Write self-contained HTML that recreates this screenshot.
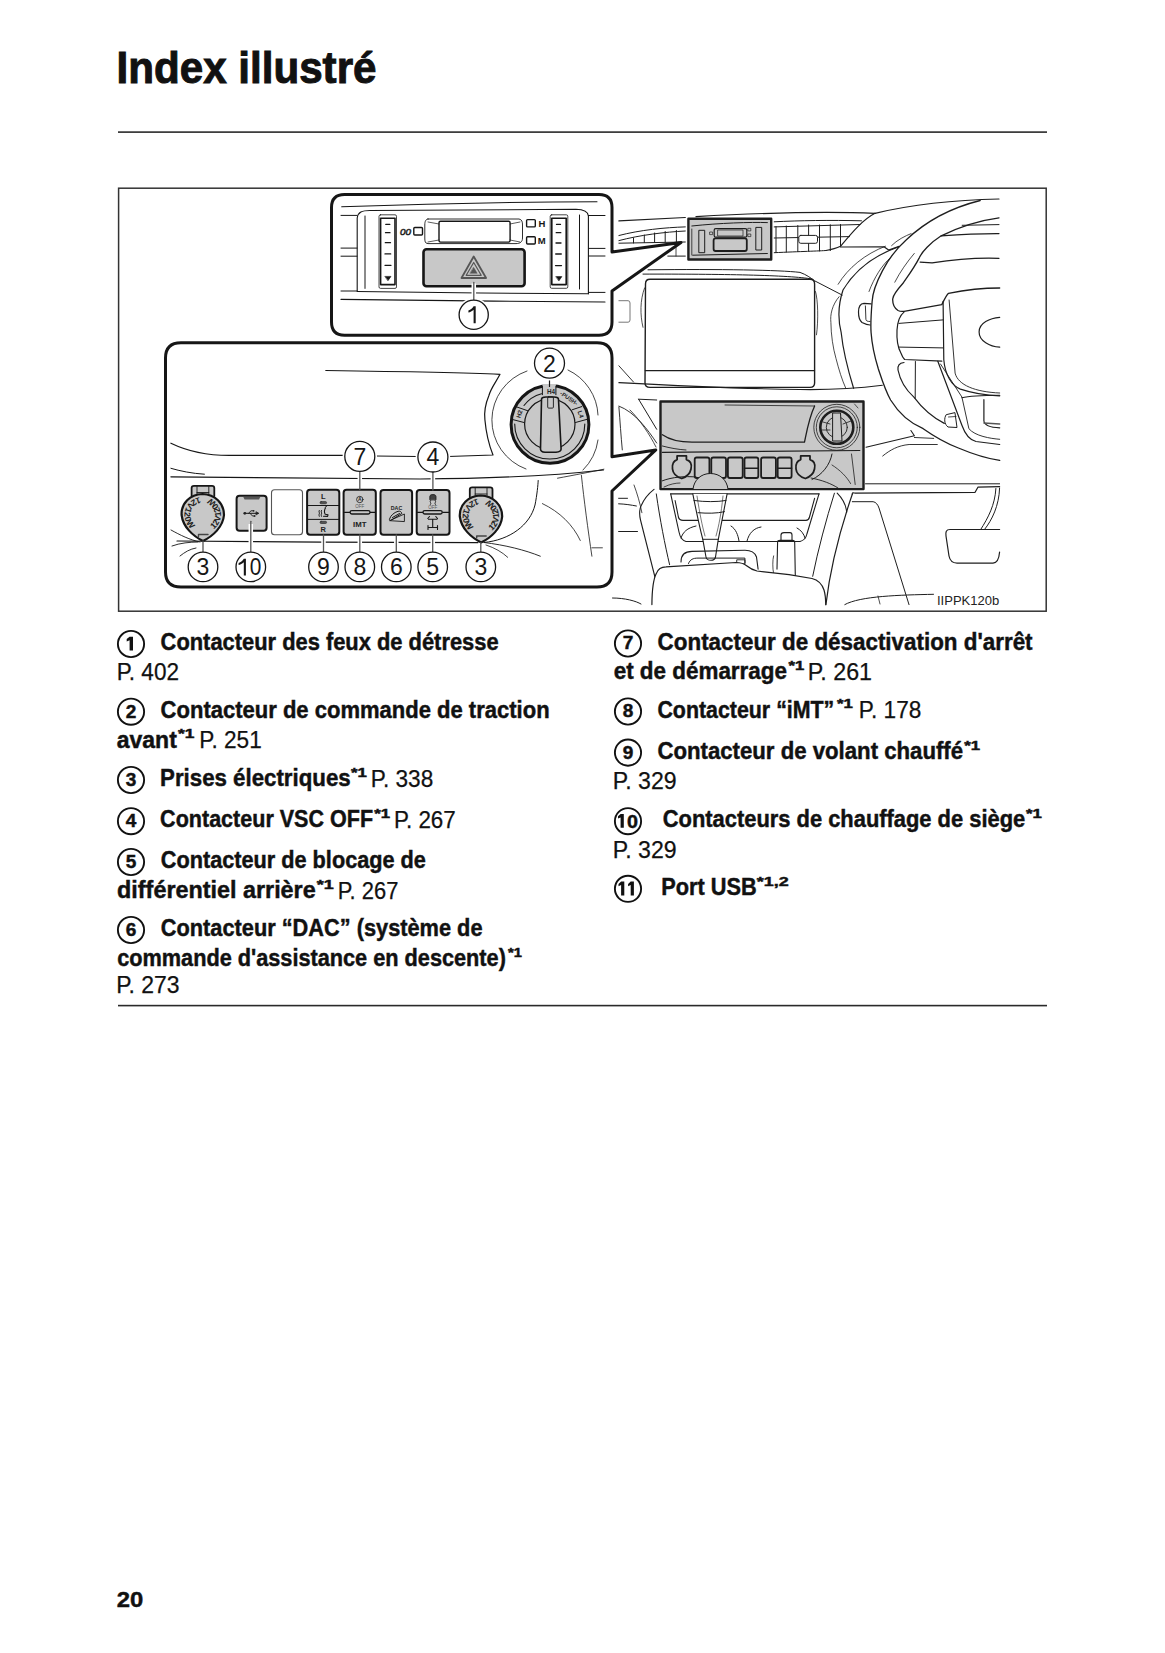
<!DOCTYPE html>
<html><head><meta charset="utf-8">
<style>
html,body{margin:0;padding:0;background:#fff;}
body{width:1165px;height:1653px;position:relative;overflow:hidden;}
svg{position:absolute;left:0;top:0;}
.b{font-family:"Liberation Sans",sans-serif;font-weight:bold;fill:#111;stroke:#111;stroke-width:0.45px;}
.r{font-family:"Liberation Sans",sans-serif;font-weight:normal;fill:#111;stroke:#111;stroke-width:0.25px;}
</style></head><body>
<svg width="1165" height="1653" viewBox="0 0 1165 1653">
<!-- header -->
<text class="b" x="116.5" y="82.8" font-size="45" style="stroke-width:1px" textLength="260" lengthAdjust="spacingAndGlyphs">Index illustré</text>
<rect x="118" y="131.3" width="929" height="1.6" fill="#2a2a2a"/>

<!-- ILLUSTRATION -->
<g id="illus">
<rect x="118.6" y="188.2" width="927.6" height="423" fill="none" stroke="#333" stroke-width="1.5"/>
<!-- DASHBOARD -->
<g fill="none" stroke="#1e1e1e" stroke-width="1.2" stroke-linecap="round" stroke-linejoin="round">
<!-- top dash line -->
<path d="M618.9,220.9 L685.3,217.5"/>
<path d="M696,216.6 C760,213 830,211.5 875,213.3"/>
<path d="M875,213.3 C910,205 950,200 999,199"/>
<!-- cowl -->
<path d="M875,213.3 C862,220 850,235 840.5,246.3 C835,249 832,249.5 826,250.5"/>
<path d="M840.5,247 L884,246.8 L888.6,250.1 L899.1,246.3"/>
<!-- left vent -->
<path d="M618.9,235.5 C640,230 665,227.5 685.3,226.9" stroke-width="1"/>
<path d="M618.9,240.6 C640,235 665,232 685.3,231" stroke-width="1"/>
<path d="M618.9,243.2 L685.3,242" stroke-width="1"/>
<path d="M633.5,238 V243 M644.3,235 V242.5 M654.6,233 V242.3 M665.2,231.5 V242.2 M676.4,230.5 V242" stroke-width="1"/>
<path d="M667.8,256.1 L685.3,256.1" stroke-width="1"/>
<path d="M676,245 V256" stroke-width="0.8"/>
<!-- right vent -->
<path d="M774.2,221.8 C800,220.5 830,220 861.5,220.8" stroke-width="1"/>
<path d="M774.2,226.9 L860,224.5" stroke-width="1"/>
<path d="M774.2,252.7 C800,251.5 820,251 826,250.5" stroke-width="1"/>
<path d="M776,226.5 V252.5 M786.3,226 V252 M797.8,225.5 V251.5 M808.6,225 V251 M819.5,225 V251 M830.3,224.8 V250.6 M840.5,224.5 V246" stroke-width="1"/>
<path d="M774.2,238 L849.5,236.6" stroke-width="1"/>
<rect x="798.8" y="235.4" width="18.7" height="7.9" rx="2" fill="#fff" stroke-width="1"/>
<!-- above screen -->
<path d="M648,269.8 C720,269 780,270 800,272.4 C806,274.5 811,278 814.4,280.7 L842.2,295.1" stroke-width="1"/>
<path d="M643,274.1 C720,274 790,275 812,279" stroke-width="1"/>
<!-- screen -->
<path d="M645.5,284 Q645.5,279.3 650,279.3 L810,279.3 Q814.6,279.3 814.6,284 L814.6,383 Q814.6,387.4 810,387.4 L650,387.4 Q645,387.4 645,383 Z" stroke-width="1.4"/>
<path d="M645.3,370.6 L814.6,370.6" stroke-width="1.1"/>
<path d="M644.6,287.9 C640,300 640,315 643,327.3" stroke-width="0.8"/>
<path d="M815.5,291.5 C818,300 818.5,320 816.5,334.8" stroke-width="0.8"/>
<path d="M618.9,300.7 L628,300.7 Q630,300.7 630,303 L630,320 Q630,322.2 628,322.2 L618.9,322.2" stroke="#777" stroke-width="1"/>
<!-- under screen -->
<path d="M618.9,382.6 C680,386 760,389 800,389.5 C830,390 860,388 882.4,385.2" stroke-width="1.1"/>
<path d="M618.9,365.8 L633.5,382" stroke-width="0.9"/>
<path d="M638.6,399.2 L656.7,400 M638.6,399.2 L656.7,429.3" stroke-width="1"/>
<path d="M618.9,406.1 C635,412 648,430 656.7,443" stroke-width="0.9"/>
<path d="M618.9,407 C620,420 621,437 622.3,449.9" stroke-width="0.9"/>
<path d="M630,410 C640,420 650,435 656,447" stroke-width="0.8"/>
<!-- column arcs -->
<path d="M838.1,284.3 C848,268 865,254 885.5,246.2" stroke-width="0.8"/>
<path d="M898.9,246.7 C875,255 855,270 843,290 C838,305 838,320 841.2,332.7 C843,350 848,370 853.6,388.3" stroke-width="1.2"/>
<path d="M839.1,296.7 C832,305 830,315 830.9,322.4 C831,335 833,348 836,358.5 C839,370 842,380 845.8,388.3" stroke-width="0.8"/>
<path d="M869,291.5 C874,278 882,265 890.6,257.5" stroke-width="0.8"/>
<path d="M866,447.2 L914.4,435.8 L910.9,430.5" stroke-width="1.1"/>
<path d="M914.4,437.5 L933.7,438.4" stroke-width="0.9"/>
<path d="M882.7,456 C890,450 898,445.5 909.1,444.5 L937.3,444.5" stroke-width="0.9"/>
<!-- steering wheel -->
<path d="M980.2,200.5 C950,208 925,222 906.1,240 C895,250 888,260 882.4,270.9 C876,283 872.5,292 872.1,301.8 C871,315 870.5,325 871.1,332.7 C872,345 875,358 878.3,368.8 C882,380 885,390 890.6,400 C898,412 910,423 923.2,428.7 C935,437 948,444 958.4,448 C975,455 990,459 999.7,460.4" stroke-width="1.3"/>
<path d="M999,217.8 C975,221 955,229 941.2,235.8 C930,243 922,252 919.4,257.6 C914,268 908,276 903,283.3 C897,290 893,295 892.7,299 C892.5,304 894,308 898,310.5 C900,311.5 902,311.6 904,311.3 L941.8,304.6 C945,298 947,294 948.5,293.3 C965,290 985,288 999.7,288" stroke-width="1.3"/>
<path d="M962.2,225.3 L999,224.6" stroke-width="1"/>
<path d="M941.2,235.8 C960,234.5 980,233.5 999,233.6" stroke-width="1.2"/>
<path d="M920.1,262.1 L932.1,262.9 C950,260 975,257.5 999,258.3" stroke-width="1.2"/>
<path d="M891.6,245.6 C897,240 905,236 911.1,233.6" stroke-width="0.8"/>
<path d="M894.8,282.2 C900,272 907,262 914.3,253.4" stroke-width="0.8"/>
<!-- stalk -->
<path d="M871.1,303.9 L864,303.3 C860,303.5 858.5,307 858.5,312 C858.5,317 859,320 862,322.5 C865,324 868,325 870,325" stroke-width="1.2"/>
<path d="M865.4,305.9 L865.9,319.3 C866,321 867.5,321.5 870,321.5" stroke-width="0.9"/>
<!-- spoke -->
<path d="M904,312.1 C899,316 897.5,322 897,330 C896.5,340 898,348 901,353.3 C902,356 903,358 904.6,359.5 L941.8,361.2" stroke-width="1.2"/>
<path d="M898.9,323.4 L943.1,319.9 M898.9,347.1 L943.1,347.9" stroke-width="1"/>
<path d="M943.1,301.3 L943.8,359.8 C945,375 952,386 960.4,389.1 C975,394 990,395.5 999.7,395.8" stroke-width="1.2"/>
<path d="M949.1,300 L955.1,373.1 C958,385 975,392 999.7,393" stroke-width="0.9"/>
<path d="M999.7,317.3 C990,318 979,323 979.1,331.9 C979,341 990,346.5 999.7,347.2" stroke-width="1.2"/>
<path d="M904,362.5 C899,363 897.5,366 898,370 C900,380 906,390 913.9,397.1 C922,408 932,417 944.3,423.4" stroke-width="1.2"/>
<path d="M915.4,361.5 L915.2,398.4" stroke-width="1"/>
<path d="M937.8,361.2 L961.9,425.2 C965,434 970,440 976,441.5 L999.7,444.5" stroke-width="1.2"/>
<path d="M940.5,364 L961.9,397 L968.9,428.7 C975,436 990,438.5 999.7,439.3" stroke-width="0.9"/>
<path d="M961.8,397.7 C970,396 985,395.5 999.7,395.3" stroke-width="1.1"/>
<path d="M983.9,399.7 L983.9,421 C984.5,425 990,427.5 999.7,427.8" stroke-width="1.2"/>
<path d="M983.9,423 L999.7,424" stroke="#555" stroke-width="1.4"/>
<path d="M946,415 C944,418 944,424 948,427 L957,427.5 L955,413 Z" stroke-width="1"/>
<path d="M948.5,417 L956,416.5" stroke-width="0.8"/>
<!-- lower right -->
<path d="M865.5,483.8 L999.6,483.8" stroke-width="1"/>
<path d="M852.3,494.2 C852,492 854,493.2 856,493.2 L975.1,492.3 L977.9,487.2 L999.6,486.6" stroke-width="1.2"/>
<path d="M999.6,529.5 L950,529.5 C946,529.5 945.5,532 946,536 L949,556 C950,561 952,563.1 957,563.1 L993,563.1 C997,563 999,559 999.6,552" stroke-width="1.2"/>
<path d="M995.9,488.5 C995,505 988,518 980.7,529.5 M999.6,488 C999,506 992,520 984.5,529.5" stroke-width="1"/>
<path d="M825.9,604.6 C830,570 840,530 852.3,494.2" stroke-width="1.2"/>
<path d="M837.2,493.2 C842,498 846,505 846.7,512.1" stroke-width="1.1"/>
<path d="M812.7,576.3 C818,550 826,520 834.4,493.2" stroke-width="1"/>
<path d="M852.3,501.7 L873.1,501.7 C876,502 878,505 879,508 L909,604.6" stroke-width="1"/>
<path d="M844.8,604.6 C860,596 900,595 933.5,594.3" stroke-width="1"/>
<path d="M880,604 L878,596" stroke-width="0.8"/>
<!-- center console -->
<path d="M618.6,498.3 L627.5,498.3 M618.6,503.8 C625,504 631,505 636.4,506 M618.6,531.5 L637.5,531.5" stroke-width="1"/>
<path d="M634,485 C637,493 640,503 641.9,512.7" stroke-width="0.8"/>
<path d="M612.5,598 C625,598 636,601 641,604" stroke-width="1"/>
<path d="M654,489.4 C648,494 644,499 641,506 C639,511 639.5,516 640.5,520 L655.2,578" stroke-width="1.1"/>
<path d="M656.3,493.9 C660,520 665,545 669.6,564.7" stroke-width="1"/>
<path d="M670.7,493.9 L819,493.9" stroke-width="1.1"/>
<path d="M670.7,493.9 L679,532 C680,537 682,540.5 686,541.5 L800,541.5 C804,540.5 806,538 806.9,534 L819,493.9" stroke-width="1.1"/>
<path d="M675.1,500.5 L678.4,517 C679,519.5 680,520.4 683,520.4 L806,520.4 C808,520.4 809,519 809.5,517 L814.6,498.3" stroke-width="1.1"/>
<path d="M681,538 C683,532 687,528 696,526 M731,526 C736,529 738,535 739,541 M747,541 C749,533 754,528 761,527 M797,528 C801,530 804,534 805,538" stroke-width="1"/>
<path d="M692.8,493.9 C696,510 699,525 702.8,539.3 L706,557 C706.5,559.5 708,560.3 711,560.3 C714,560.3 715,559 715.5,557 L718.3,539.3 C721,525 724,510 727.1,493.9" fill="#fff" stroke-width="1.1"/>
<path d="M694,500.5 C705,502 717,502 726,500.5 M698,512.7 C708,513.5 716,513.5 724.5,511.7 M702.8,539.3 L718.3,539.3" stroke-width="1"/>
<path d="M697,496 C700,515 702,525 705,536 M723,496 C721,515 719,525 716,536" stroke-width="0.6"/>
<path d="M681,562 C681,555 685,551.4 692,551.4 L745,550.3 C752,550.3 755,553 756.5,557 L758.1,569.1" stroke-width="1.1"/>
<path d="M688.5,563.5 C690,559.5 693,558.1 698,558.1 L744.9,558.1 L745,563" stroke-width="1"/>
<rect x="737.1" y="559.8" width="7.8" height="4" stroke-width="0.9"/>
<path d="M777,569.1 L777.6,542 C777.6,540.8 778.5,540.4 780,540.4 L792.5,540.4 C794,540.4 794.7,541 794.7,542.5 L795.3,575.8" stroke-width="1.1"/>
<path d="M781,540.4 L781,535 C781,533 782,532.6 784,532.6 L790,532.6 C791.5,532.6 792,533.5 792,535 L792,540.4" stroke-width="1.1"/>
<path d="M773.6,555.9 C772.5,560 772.5,568 773.6,573.6" stroke-width="0.8"/>
<path d="M651.9,604.6 C652,592 653,580 656.3,573.6 C658,569 661,566.9 666,566.9 L736,562.5 C741,562.5 744,563.5 747,566 C750,568.5 753,570 757,571 L789.1,574.7 L812,578.5 C818,580 822,584 824,590 C825.5,595 825.7,600 825.7,604.6" fill="#fff" stroke-width="1.2"/>
</g>
<!-- HIGHLIGHT BOX 1 -->
<g stroke="#1e1e1e" stroke-linecap="round" stroke-linejoin="round">
<rect x="688.4" y="218.8" width="82.8" height="40.7" fill="#c8c8c8" stroke-width="2.4"/>
<path d="M691.8,226 C720,223 750,222 767.4,222.6" fill="none" stroke-width="1"/>
<path d="M692.7,255.2 L767.4,253.5" fill="none" stroke-width="1"/>
<path d="M691.8,229 L691.8,255" fill="none" stroke-width="0.8"/>
<rect x="699.2" y="230.3" width="5.5" height="22.4" fill="#c8c8c8" stroke-width="1"/>
<rect x="756.2" y="227.4" width="5.5" height="22.6" fill="#c8c8c8" stroke-width="1"/>
<rect x="714.2" y="228.6" width="32.6" height="8.6" rx="1.5" fill="#c8c8c8" stroke-width="1.2"/>
<rect x="718" y="230" width="25" height="6" fill="none" stroke-width="0.7"/>
<rect x="713.6" y="238.4" width="33.2" height="12.6" rx="2" fill="#c8c8c8" stroke-width="1.8"/>
<rect x="710" y="232" width="2.6" height="2.6" fill="none" stroke-width="0.7"/>
<rect x="748.2" y="228.3" width="2.6" height="2.6" fill="none" stroke-width="0.7"/>
<rect x="748.2" y="234" width="2.6" height="2.6" fill="none" stroke-width="0.7"/>
</g>
<!-- HIGHLIGHT BOX 2 -->
<g stroke="#1e1e1e" stroke-linecap="round" stroke-linejoin="round" fill="none">
<rect x="660.5" y="401.5" width="203" height="87.6" fill="#c8c8c8" stroke-width="2.4"/>
<path d="M725,405 L814.6,406" stroke-width="0.8"/>
<path d="M662.4,434.7 C670,440 680,442.1 692,442.1 L804.5,442.1 C807,430 809,418 814.6,406" stroke-width="1.3"/>
<path d="M662.4,446 C670,448 678,449.5 686,450" stroke-width="0.9"/>
<path d="M662.4,452.4 L859.8,450.5" stroke-width="1.2"/>
<circle cx="836.8" cy="427.3" r="23" stroke-width="0.8"/>
<circle cx="836.8" cy="427.3" r="20.5" stroke-width="0.8"/>
<circle cx="836.8" cy="427.3" r="16.5" stroke-width="2.6"/>
<circle cx="836.8" cy="427.3" r="10.5" stroke-width="0.9"/>
<path d="M833,413 L840.5,413 L842,441 L833,441 Z" fill="#c8c8c8" stroke-width="1"/>
<path d="M823,422 L830,424 M843,424 L851,421 M822,430 L830,430" stroke-width="0.8"/>
<path d="M677.1,459.6 L677.1,455.9 L686.4,455.9 L686.4,459.6 C691,461 692,465 691,469 C690,474 686,477 681.8,478.5 C677,477 673,474 672.5,469 C672,465 673,461 677.1,459.6 Z" stroke-width="1.8"/>
<path d="M800.7,459.6 L800.7,455.9 L810,455.9 L810,459.6 C814.5,461 815.5,465 814.5,469 C813.5,474 809.5,477 805.4,478.5 C800.5,477 796.5,474 796,469 C795.5,465 796.5,461 800.7,459.6 Z" stroke-width="1.8"/>
<rect x="694.7" y="457.5" width="14.7" height="20.5" rx="2" stroke-width="1.8"/>
<rect x="711.3" y="457.5" width="14.7" height="20.5" rx="2" stroke-width="1.8"/>
<rect x="727.9" y="457.5" width="14.8" height="20.5" rx="2" stroke-width="1.8"/>
<rect x="744.5" y="457.5" width="13.8" height="20.5" rx="2" stroke-width="1.8"/>
<rect x="761.1" y="457.5" width="14.8" height="20.5" rx="2" stroke-width="1.8"/>
<rect x="777.7" y="457.5" width="13.9" height="20.5" rx="2" stroke-width="1.8"/>
<path d="M744.5,468.2 L758.3,468.2 M777.7,468.2 L791.6,468.2" stroke-width="1.5"/>
<path d="M693,489 C694,480 701,473.5 710.4,473.5 C720,473.5 727,480 728,489" fill="#c8c8c8" stroke-width="1"/>
<path d="M662.4,480.8 C672,477 685,476 696,477" stroke-width="1"/>
<path d="M664,487 C670,484 676,483 680,483" stroke-width="0.8"/>
<path d="M811,478 C822,480 832,484 838,488" stroke-width="0.9"/>
<path d="M812,479.5 C822,475 830,465 832,454" stroke-width="1"/>
<path d="M832,465 C840,470 847,477 850.6,483.6" stroke-width="0.8"/>
<path d="M851.5,454 L855.2,484.5" stroke-width="0.8"/>
<path d="M854.5,404 L858,408" stroke-width="0.7"/>
</g>
<!-- INSET A -->
<g stroke="#161616" stroke-linecap="round" stroke-linejoin="round" fill="none">
<path d="M331.5,207.5 Q331.5,194.5 344.5,194.5 L599,194.5 Q612,194.5 612,207.5 L612,252 L681,242.4 L612,291 L612,322 Q612,335.2 599,335.2 L344.5,335.2 Q331.5,335.2 331.5,322 Z" fill="#fff" stroke-width="3"/>
<path d="M341.7,206.7 C420,204 520,202 597,201.7" stroke-width="1.1"/>
<path d="M357.2,291 L357.2,218 C358,212 362,210.5 370,210.5 L576,209.3 C584,209.5 588,212 588.4,216 L588.4,293.8" stroke-width="1.1"/>
<path d="M357.2,291.5 C420,292.5 520,293.5 588.4,293.8" stroke-width="1.1"/>
<path d="M341,215.4 L357,215.4 M341,248.1 L357,248.1 M341,256.2 L357,256.2 M341,291 L357,291" stroke-width="1"/>
<path d="M341,299.4 C420,300.5 520,301.5 605,302" stroke-width="1.1"/>
<path d="M588.4,215.5 L605,215.5 M588.4,248.4 L605,248.4 M588.4,256 L605,256 M588.4,292.4 L605,292.4" stroke-width="1"/>
<path d="M365,216 L365,288.4 M579.5,215 L579.5,289" stroke-width="1"/>
<rect x="379" y="214.8" width="17.5" height="73.6" rx="1.5" stroke-width="0.8"/>
<rect x="380.6" y="218.3" width="14.4" height="66.3" stroke-width="1.6"/>
<path d="M385.8,224.4 H389.8 M385.5,232.7 H390 M385.3,242.7 H390.5 M385,253.9 H390.7 M385,265.3 H391" stroke-width="1.3"/>
<path d="M385,279.5" stroke-width="1"/>
<path d="M385.2,276.4 L391,276.4 L388.1,280.5 Z" fill="#161616" stroke-width="0.6"/>
<rect x="550.2" y="214.8" width="17.6" height="73.5" rx="1.5" stroke-width="0.8"/>
<rect x="551.8" y="218.3" width="14.4" height="66.3" stroke-width="1.6"/>
<path d="M556.5,224.4 H560.5 M556.2,232.7 H560.8 M556,243 H561 M555.7,254 H561.3 M555.5,265.6 H561.5" stroke-width="1.3"/>
<path d="M556.1,276.6 L561.9,276.6 L559,280.7 Z" fill="#161616" stroke-width="0.6"/>
<text x="400" y="234.6" font-family="Liberation Sans" font-size="9.5" font-style="italic" fill="#fff" stroke="#222" stroke-width="0.7" textLength="11" lengthAdjust="spacingAndGlyphs">00</text>
<rect x="413.8" y="227.5" width="8.7" height="7.5" rx="1" stroke-width="1.4"/>
<path d="M428,219 L519,219 C522,219.5 522.5,222 522.5,225 L522.5,238 C522.5,242 520,243.6 516,243.6 L428,243.6 C425,243.6 424.8,241 424.8,238 L424.8,225 C424.8,221 426,219 428,219 Z" stroke-width="0.9"/>
<path d="M428,222 L439,224 M428,242 L439,240 M510,224 L520,222 M510,240 L520,242" stroke-width="0.7"/>
<rect x="439" y="221.2" width="71.1" height="20.9" rx="1.5" stroke-width="1.4"/>
<rect x="526.6" y="219.6" width="8.7" height="7.3" rx="1" stroke-width="1.4"/>
<rect x="526.6" y="236.8" width="8.7" height="7.2" rx="1" stroke-width="1.4"/>
<text x="538.5" y="227.2" font-family="Liberation Sans" font-size="9.5" font-weight="bold" fill="#161616" stroke="none">H</text>
<text x="537.8" y="244.2" font-family="Liberation Sans" font-size="9.5" font-weight="bold" fill="#161616" stroke="none">M</text>
<rect x="423.5" y="249.2" width="101.1" height="37" rx="3" fill="#c8c8c8" stroke-width="2.6"/>
<path d="M473.7,256.5 L486.1,278 L461.5,278 Z" fill="#c8c8c8" stroke="#555" stroke-width="1.8"/>
<path d="M473.7,262.5 L481.2,275.3 L466.2,275.3 Z" fill="#c8c8c8" stroke="#555" stroke-width="1.2"/>
<path d="M473.7,267.5 L477.2,273.3 L470.2,273.3 Z" fill="#555" stroke="#555" stroke-width="0.5"/>
<path d="M473.8,283.5 L473.8,300" stroke="#fff" stroke-width="4.5" stroke-linecap="butt"/>
<circle cx="473.7" cy="314.8" r="14.6" fill="#fff" stroke="#fff" stroke-width="4.5"/>
<path d="M473.8,282.5 L473.8,300" stroke="#555" stroke-width="1.3"/>
<circle cx="473.7" cy="314.8" r="14.6" fill="#fff" stroke-width="1.3"/>
<path d="M473.6,306.2 L475.7,306.2 L475.7,323.2 L473.6,323.2 L473.6,309.8 C472.1,311.4 470.1,312.2 468.4,312.5 L468.4,310.5 C470.6,309.8 472.8,308.0 473.6,306.2 Z" fill="#161616" stroke="none"/>
</g>
<!-- INSET B -->
<g stroke="#161616" stroke-linecap="round" stroke-linejoin="round" fill="none">
<path d="M165.5,358 Q165.5,342.7 181,342.7 L597,342.7 Q612,342.7 612,358 L612,456.7 L655.8,449.9 L612,491 L612,572 Q612,587 597,587 L181,587 Q165.5,587 165.5,572 Z" fill="#fff" stroke-width="3"/>
<!-- dashboard top shape -->
<path d="M325.8,370.5 C400,371.5 460,372.5 500,374.3 C496,382 491,388 488.9,395.5 C485,405 484,412 484.9,419.7 C486,432 489,445 493,455 L448,456.5" stroke-width="1.2"/>
<path d="M170.9,443.2 C185,450 205,455.4 229.1,455.4 L344.5,455.4" stroke-width="1.2"/>
<path d="M375,456 L417.5,456.5" stroke-width="1.2"/>
<path d="M170.9,468.3 C180,471 192,473.5 204.4,474.2" stroke-width="1"/>
<path d="M170.9,476.8 C260,478 340,479 420,479 C500,478.5 560,475 603.4,470" stroke-width="1.2"/>
<path d="M177,541 C260,542 400,542.5 478,542.6" stroke-width="1.2"/>
<!-- knob arcs -->
<path d="M527,371 A52,52 0 0 0 526,469" stroke-width="0.8"/>
<path d="M568,370 A52,52 0 0 1 598,415" stroke-width="0.8"/>
<path d="M583,470 A52,52 0 0 0 598,440" stroke-width="0.8"/>
<path d="M557.5,478.2 C575,475 590,472 603.9,469.2" stroke-width="0.8"/>
<!-- knob -->
<circle cx="550" cy="424.4" r="38.9" fill="#c8c8c8" stroke-width="3"/>
<rect x="542.4" y="384" width="13.5" height="10.7" fill="#c8c8c8" stroke="none"/>
<path d="M542.4,386.2 L542.4,394.7 M555.9,386.2 L555.9,394.7" stroke-width="1"/>
<path d="M524,405.5 A32,32 0 0 1 541.5,393.7" stroke-width="1.1"/>
<path d="M514.7,424 A35,35 0 0 0 584.8,424" stroke-width="1.1"/>
<circle cx="549.8" cy="424.1" r="25.2" fill="#c8c8c8" stroke-width="1.2"/>
<path d="M515.8,406.6 L527.6,410.7 M512.1,419.4 L524,422.5" stroke-width="1"/>
<path d="M581.7,406.6 L572.4,409.7 M586.8,419.4 L575.5,422.5" stroke-width="1"/>
<text x="0" y="2" font-family="Liberation Sans" font-size="6.2" font-weight="bold" fill="#222" stroke="none" text-anchor="middle" transform="translate(519.5,414.2) rotate(-72)">H2</text>
<text x="0" y="2" font-family="Liberation Sans" font-size="6.2" font-weight="bold" fill="#222" stroke="none" text-anchor="middle" transform="translate(580.5,414.2) rotate(72)">L4</text>
<text x="0" y="2" font-family="Liberation Sans" font-size="5.8" font-weight="bold" fill="#222" stroke="none" text-anchor="middle" transform="translate(569,398.3) rotate(34)">-PUSH-</text>
<text x="551" y="393.6" font-family="Liberation Sans" font-size="6.3" font-weight="bold" text-anchor="middle" fill="#222" stroke="none">H4</text>
<path d="M541.5,399.5 C541.5,397.5 543.5,397 546,397 L554,397 C556.5,397 558.5,397.5 558.5,399.5 L561.1,449 C561.1,451 559,452 556,452.3 L545,452.3 C542,452 540.5,451 540.5,449 Z" fill="#c8c8c8" stroke-width="1.6"/>
<rect x="547.7" y="396.8" width="5.7" height="11.3" rx="1" stroke-width="0.9"/>
<path d="M549.5,378.3 L549.5,386.5" stroke-width="1.2"/>
<!-- sockets -->
<g id="sockL">
<path d="M191.6,496 L191.6,488 Q191.6,485.8 194,485.8 L212,485.8 Q214.3,485.8 214.3,488 L214.3,496" fill="#c8c8c8" stroke-width="1.8"/>
<path d="M197,486.5 L197,494 M208.8,486.5 L208.8,494 M197,492.5 L208.8,492.5" stroke-width="0.9"/>
<path d="M203,541 C193,536 183,527 181.6,515 C181,503 190,494.5 202.5,494 C215,494.5 224,503 224,515 C223,527 213,536 203,541 Z" fill="#c8c8c8" stroke-width="2.2"/>
<path d="M198.5,534.5 L208,534.5 M198.5,534.5 L198.5,536.5" stroke="#444" stroke-width="1.4"/>
</g>
<path id="sa1" d="M199.4,497.1 A18.2,18.2 0 0 0 191.4,529.3" fill="none" stroke="none"/>
<path id="sb1" d="M213.8,529.3 A18.2,18.2 0 0 0 209.4,498.1" fill="none" stroke="none"/>
<text font-family="Liberation Sans" font-size="8.6" font-weight="bold" fill="#222" stroke="none"><textPath href="#sa1" textLength="41.1" lengthAdjust="spacing">12V120W</textPath></text>
<text font-family="Liberation Sans" font-size="8.6" font-weight="bold" fill="#222" stroke="none"><textPath href="#sb1" textLength="37.4" lengthAdjust="spacing">12V120W</textPath></text>
<use href="#sockL" transform="translate(278.2,1.5)"/>
<path id="sa2" d="M477.6,498.6 A18.2,18.2 0 0 0 469.6,530.8" fill="none" stroke="none"/>
<path id="sb2" d="M492.0,530.8 A18.2,18.2 0 0 0 487.6,499.6" fill="none" stroke="none"/>
<text font-family="Liberation Sans" font-size="8.6" font-weight="bold" fill="#222" stroke="none"><textPath href="#sa2" textLength="41.1" lengthAdjust="spacing">12V120W</textPath></text>
<text font-family="Liberation Sans" font-size="8.6" font-weight="bold" fill="#222" stroke="none"><textPath href="#sb2" textLength="37.4" lengthAdjust="spacing">12V120W</textPath></text>
<!-- buttons -->
<rect x="236.6" y="495.7" width="30" height="35.1" rx="3" fill="#c8c8c8" stroke-width="2"/>
<path d="M243.3,496.9 L260.3,496.9 L259,499.4 L244.6,499.4 Z" fill="#555" stroke="none"/>
<path d="M245,513.3 L258,513.3" stroke-width="1"/>
<path d="M256.3,511.8 L258.8,513.3 L256.3,514.8 Z" fill="#222" stroke-width="0.6"/>
<circle cx="244.8" cy="513.3" r="1.4" fill="#222" stroke="none"/>
<path d="M248.5,513.3 L251,510.8 L253,510.8 M250,513.3 L252.5,516 L254.5,516" stroke-width="0.9"/>
<circle cx="253.6" cy="510.8" r="0.9" fill="#222" stroke="none"/>
<rect x="253.8" y="515.2" width="1.6" height="1.6" fill="#222" stroke="none"/>
<rect x="271.5" y="489.7" width="31" height="45.1" rx="3" fill="#fff" stroke="#555" stroke-width="1.1"/>
<rect x="307.1" y="489.7" width="32.2" height="45.1" rx="3" fill="#c8c8c8" stroke-width="2"/>
<path d="M307.5,505.5 L339,505.5 M307.5,519.4 L339,519.4" stroke-width="1"/>
<text x="323.3" y="498.7" font-family="Liberation Sans" font-size="7.5" font-weight="bold" text-anchor="middle" fill="#222" stroke="none">L</text>
<rect x="320" y="501.6" width="6.6" height="2.2" rx="1.1" fill="#555" stroke="#222" stroke-width="0.6"/>
<path d="M325.5,508 C324.3,510 324.2,512.5 325.2,514.3 L328,514.8 L327.6,516.4 L323.5,516.2" stroke-width="1.1"/>
<path d="M319.2,510.5 C318.4,511.8 320,512.8 319.2,514.2 C318.6,515 319.4,515.8 319.4,516.3 M321.4,510.5 C320.6,511.8 322.2,512.8 321.4,514.2 C320.8,515 321.6,515.8 321.6,516.3" stroke-width="1"/>
<path d="M325,507.5 L327,505.8" stroke-width="1"/>
<rect x="320" y="521.3" width="6.6" height="2.2" rx="1.1" fill="#555" stroke="#222" stroke-width="0.6"/>
<text x="323.3" y="532" font-family="Liberation Sans" font-size="7.5" font-weight="bold" text-anchor="middle" fill="#222" stroke="none">R</text>
<rect x="343.6" y="489.7" width="32.2" height="45.1" rx="3" fill="#c8c8c8" stroke-width="2"/>
<path d="M344.5,512.3 L375,512.3" stroke-width="1.2"/>
<rect x="350.1" y="510.6" width="19.9" height="3.4" rx="1.7" fill="#c8c8c8" stroke-width="1.3"/>
<circle cx="359.8" cy="499.5" r="3.2" stroke-width="0.8"/>
<text x="359.8" y="501.3" font-family="Liberation Sans" font-size="5" font-weight="bold" text-anchor="middle" fill="#222" stroke="none">A</text>
<text x="359.8" y="507.5" font-family="Liberation Sans" font-size="4.5" text-anchor="middle" fill="#555" stroke="none">OFF</text>
<text x="359.8" y="526.5" font-family="Liberation Sans" font-size="7.8" font-weight="bold" text-anchor="middle" fill="#222" stroke="none">IMT</text>
<rect x="380.5" y="490" width="31.6" height="44.8" rx="3" fill="#c8c8c8" stroke-width="2"/>
<text x="396.5" y="509.6" font-family="Liberation Sans" font-size="6" font-weight="bold" text-anchor="middle" fill="#222" stroke="none" textLength="11.5" lengthAdjust="spacingAndGlyphs">DAC</text>
<path d="M390,520.5 L404.4,514 L404.4,521.2 Z" stroke-width="0.9"/>
<path d="M389.5,519 C390.5,515.5 394,512.5 398,511.3 C400,510.8 401.5,511.8 401.8,513.5 L390.5,520.5 Z M392.5,517.5 L399.5,513.5" stroke-width="1"/>
<rect x="416.7" y="490" width="32.8" height="44.8" rx="3" fill="#c8c8c8" stroke-width="2"/>
<path d="M417.5,512.3 L448.7,512.3" stroke-width="1.2"/>
<rect x="423" y="510.6" width="19.2" height="3.4" rx="1.7" fill="#c8c8c8" stroke-width="1.3"/>
<path d="M429.8,499.5 L429.8,496.5 C430,495 431,494.6 432.9,494.6 C434.8,494.6 435.8,495 436,496.5 L436,499.5 Z" fill="#444" stroke-width="0.8"/>
<path d="M430.5,500.5 C429,502 432,503 430.5,504.5 M435.3,500.5 C436.8,502 433.8,503 435.3,504.5" stroke-width="0.9"/>
<text x="432.7" y="509.2" font-family="Liberation Sans" font-size="4.5" text-anchor="middle" fill="#555" stroke="none">OFF</text>
<path d="M428.5,519.3 L437,519.3 M432.7,519.3 L432.7,527.5 M428.5,527.5 L437,527.5 M428,525.5 L428,529.5 M437.5,525.5 L437.5,529.5 M427.8,518.5 L429.5,516.5 M437.5,518.5 L435.8,516.5" stroke-width="1.1"/>
<!-- right side curves -->
<path d="M484,542.5 C510,540 530,525 535,505 C537,495 538,485 538.2,480.5" stroke-width="1"/>
<path d="M542.4,503.6 C560,512 573,525 580.3,540.5" stroke-width="0.8"/>
<path d="M484,542.5 C505,545 525,550 540.3,556.2" stroke-width="0.9"/>
<path d="M486,545 C495,548 502,552 507.7,557.3" stroke-width="0.8"/>
<path d="M581.4,475.3 C584,500 588,530 591.9,556.2 M591.9,547.8 L602.4,547.8" stroke-width="0.8"/>
<path d="M171,530 C180,535 190,540 200,542 M172,546 C180,543 190,542 198,542 M180,556 C185,552 190,549 196,548" stroke-width="0.9"/>
<!-- leaders -->
<g stroke="#fff" stroke-width="4.5" stroke-linecap="butt">
<path d="M203,543.5 L203,552"/>
<path d="M250.8,524 L250.8,552"/>
<path d="M323.5,537.5 L323.5,552"/>
<path d="M359.8,537.5 L359.8,552"/>
<path d="M396.3,537.5 L396.3,552"/>
<path d="M432.7,537.5 L432.7,552"/>
<path d="M480.8,545 L480.8,552"/>
<path d="M359.8,471 L359.8,487"/>
<path d="M432.9,472 L432.9,487.5"/>
</g>
<g fill="#fff" stroke="#fff" stroke-width="4.5">
<circle cx="549.5" cy="363.2" r="15"/>
<circle cx="359.8" cy="456.4" r="15"/>
<circle cx="432.9" cy="457" r="15"/>
<circle cx="203" cy="566.9" r="14.8"/>
<circle cx="250.8" cy="566.9" r="14.8"/>
<circle cx="323.5" cy="566.9" r="14.8"/>
<circle cx="359.8" cy="566.9" r="14.8"/>
<circle cx="396.3" cy="566.9" r="14.8"/>
<circle cx="432.7" cy="566.9" r="14.8"/>
<circle cx="480.8" cy="566.9" r="14.8"/>
</g>
<g stroke="#555" stroke-width="1.3">
<path d="M203,541 L203,552"/>
<path d="M250.8,521.3 L250.8,552"/>
<path d="M323.5,534.8 L323.5,552"/>
<path d="M359.8,534.8 L359.8,552"/>
<path d="M396.3,534.8 L396.3,552"/>
<path d="M432.7,534.8 L432.7,552"/>
<path d="M480.8,542.6 L480.8,552"/>
<path d="M359.8,471 L359.8,489.7"/>
<path d="M432.9,472 L432.9,490"/>
</g>
<!-- circles -->
<g fill="#fff" stroke="#161616" stroke-width="1.3">
<circle cx="549.5" cy="363.2" r="15"/>
<circle cx="359.8" cy="456.4" r="15"/>
<circle cx="432.9" cy="457" r="15"/>
<circle cx="203" cy="566.9" r="14.8"/>
<circle cx="250.8" cy="566.9" r="14.8"/>
<circle cx="323.5" cy="566.9" r="14.8"/>
<circle cx="359.8" cy="566.9" r="14.8"/>
<circle cx="396.3" cy="566.9" r="14.8"/>
<circle cx="432.7" cy="566.9" r="14.8"/>
<circle cx="480.8" cy="566.9" r="14.8"/>
</g>
<g font-family="Liberation Sans" font-size="23" text-anchor="middle" fill="#161616" stroke="none">
<text x="549.5" y="371.6">2</text>
<text x="359.8" y="464.8">7</text>
<text x="432.9" y="465.4">4</text>
<text x="203" y="575.4">3</text>
<path d="M243.8,558.7 L245.9,558.7 L245.9,575.4 L243.8,575.4 L243.8,562.3 C242.3,563.9 240.3,564.7 238.6,565.0 L238.6,563.0 C240.8,562.3 243.0,560.5 243.8,558.7 Z" fill="#161616" stroke="none"/>
<text x="255.6" y="575.4" textLength="11.6" lengthAdjust="spacingAndGlyphs">0</text>
<text x="323.5" y="575.4">9</text>
<text x="359.8" y="575.4">8</text>
<text x="396.3" y="575.4">6</text>
<text x="432.7" y="575.4">5</text>
<text x="480.8" y="575.4">3</text>
</g>
</g>
<text x="937" y="604.6" font-family="Liberation Sans" font-size="13" fill="#222" textLength="62.3" lengthAdjust="spacingAndGlyphs">IIPPK120b</text>

</g><!--/illus-->

<!-- ITEMS -->
<g id="items">
<text class="b" x="160.6" y="650.0" font-size="23.5" textLength="338.0" lengthAdjust="spacingAndGlyphs">Contacteur des feux de détresse</text>
<text class="r" x="116.7" y="679.6" font-size="24" textLength="62.3" lengthAdjust="spacingAndGlyphs">P. 402</text>
<text class="b" x="160.6" y="717.8" font-size="23.5" textLength="389.0" lengthAdjust="spacingAndGlyphs">Contacteur de commande de traction</text>
<text class="b" x="116.7" y="747.5" font-size="23.5" textLength="60.1" lengthAdjust="spacingAndGlyphs">avant</text>
<text class="b" x="178.0" y="738.3" font-size="13" textLength="16.4" lengthAdjust="spacingAndGlyphs">*1</text>
<text class="r" x="199.3" y="747.9" font-size="24" textLength="62.4" lengthAdjust="spacingAndGlyphs">P. 251</text>
<text class="b" x="160.1" y="786.1" font-size="23.5" textLength="190.6" lengthAdjust="spacingAndGlyphs">Prises électriques</text>
<text class="b" x="351.0" y="776.9" font-size="13" textLength="15.9" lengthAdjust="spacingAndGlyphs">*1</text>
<text class="r" x="370.8" y="786.5" font-size="24" textLength="62.4" lengthAdjust="spacingAndGlyphs">P. 338</text>
<text class="b" x="160.1" y="827.3" font-size="23.5" textLength="213.0" lengthAdjust="spacingAndGlyphs">Contacteur VSC OFF</text>
<text class="b" x="374.2" y="818.1" font-size="13" textLength="15.9" lengthAdjust="spacingAndGlyphs">*1</text>
<text class="r" x="393.9" y="827.7" font-size="24" textLength="61.9" lengthAdjust="spacingAndGlyphs">P. 267</text>
<text class="b" x="160.8" y="868.3" font-size="23.5" textLength="265.1" lengthAdjust="spacingAndGlyphs">Contacteur de blocage de</text>
<text class="b" x="117.1" y="898.4" font-size="23.5" textLength="198.6" lengthAdjust="spacingAndGlyphs">différentiel arrière</text>
<text class="b" x="316.7" y="889.2" font-size="13" textLength="17.0" lengthAdjust="spacingAndGlyphs">*1</text>
<text class="r" x="337.8" y="898.8" font-size="24" textLength="60.6" lengthAdjust="spacingAndGlyphs">P. 267</text>
<text class="b" x="160.8" y="936.1" font-size="23.5" textLength="321.7" lengthAdjust="spacingAndGlyphs">Contacteur “DAC” (système de</text>
<text class="b" x="117.2" y="966.2" font-size="23.5" textLength="388.7" lengthAdjust="spacingAndGlyphs">commande d'assistance en descente)</text>
<text class="b" x="508.0" y="957.0" font-size="13" textLength="13.9" lengthAdjust="spacingAndGlyphs">*1</text>
<text class="r" x="116.2" y="993.2" font-size="24" textLength="63.4" lengthAdjust="spacingAndGlyphs">P. 273</text>
<text class="b" x="657.6" y="649.5" font-size="23.5" textLength="375.0" lengthAdjust="spacingAndGlyphs">Contacteur de désactivation d'arrêt</text>
<text class="b" x="613.7" y="679.2" font-size="23.5" textLength="173.3" lengthAdjust="spacingAndGlyphs">et de démarrage</text>
<text class="b" x="788.5" y="670.0" font-size="13" textLength="15.8" lengthAdjust="spacingAndGlyphs">*1</text>
<text class="r" x="807.8" y="679.6" font-size="24" textLength="64.2" lengthAdjust="spacingAndGlyphs">P. 261</text>
<text class="b" x="657.4" y="717.5" font-size="23.5" textLength="176.9" lengthAdjust="spacingAndGlyphs">Contacteur “iMT”</text>
<text class="b" x="837.0" y="708.3" font-size="13" textLength="15.9" lengthAdjust="spacingAndGlyphs">*1</text>
<text class="r" x="858.8" y="717.9" font-size="24" textLength="62.5" lengthAdjust="spacingAndGlyphs">P. 178</text>
<text class="b" x="657.4" y="758.7" font-size="23.5" textLength="305.7" lengthAdjust="spacingAndGlyphs">Contacteur de volant chauffé</text>
<text class="b" x="964.2" y="749.5" font-size="13" textLength="15.9" lengthAdjust="spacingAndGlyphs">*1</text>
<text class="r" x="612.8" y="788.6" font-size="24" textLength="63.8" lengthAdjust="spacingAndGlyphs">P. 329</text>
<text class="b" x="662.8" y="827.3" font-size="23.5" textLength="362.4" lengthAdjust="spacingAndGlyphs">Contacteurs de chauffage de siège</text>
<text class="b" x="1026.0" y="818.1" font-size="13" textLength="15.9" lengthAdjust="spacingAndGlyphs">*1</text>
<text class="r" x="612.8" y="857.5" font-size="24" textLength="63.8" lengthAdjust="spacingAndGlyphs">P. 329</text>
<text class="b" x="661.3" y="894.9" font-size="23.5" textLength="95.4" lengthAdjust="spacingAndGlyphs">Port USB</text>
<text class="b" x="756.8" y="885.7" font-size="13" textLength="31.9" lengthAdjust="spacingAndGlyphs">*1,2</text>
<circle cx="131" cy="644" r="13.1" fill="none" stroke="#111" stroke-width="1.9"/>
<path d="M129.6,636.8 L133.0,636.8 L133.0,650.6 L129.6,650.6 L129.6,640.2 L126.7,641.4 L126.7,639.1 Z" fill="#111"/>
<circle cx="131" cy="711.7" r="13.1" fill="none" stroke="#111" stroke-width="1.9"/>
<text class="b" x="131" y="717.6" font-size="19" text-anchor="middle">2</text>
<circle cx="131" cy="780" r="13.1" fill="none" stroke="#111" stroke-width="1.9"/>
<text class="b" x="131" y="785.9" font-size="19" text-anchor="middle">3</text>
<circle cx="131" cy="821.2" r="13.1" fill="none" stroke="#111" stroke-width="1.9"/>
<text class="b" x="131" y="827.1" font-size="19" text-anchor="middle">4</text>
<circle cx="131" cy="862" r="13.1" fill="none" stroke="#111" stroke-width="1.9"/>
<text class="b" x="131" y="867.9" font-size="19" text-anchor="middle">5</text>
<circle cx="131" cy="930" r="13.1" fill="none" stroke="#111" stroke-width="1.9"/>
<text class="b" x="131" y="935.9" font-size="19" text-anchor="middle">6</text>
<circle cx="628" cy="643.5" r="13.1" fill="none" stroke="#111" stroke-width="1.9"/>
<text class="b" x="628" y="649.4" font-size="19" text-anchor="middle">7</text>
<circle cx="628" cy="711.5" r="13.1" fill="none" stroke="#111" stroke-width="1.9"/>
<text class="b" x="628" y="717.4" font-size="19" text-anchor="middle">8</text>
<circle cx="628" cy="752.6" r="13.1" fill="none" stroke="#111" stroke-width="1.9"/>
<text class="b" x="628" y="758.5" font-size="19" text-anchor="middle">9</text>
<circle cx="628" cy="821.2" r="13.1" fill="none" stroke="#111" stroke-width="1.9"/>
<path d="M620.6,814.0 L623.8,814.0 L623.8,827.8 L620.6,827.8 L620.6,817.4 L618.0,818.6 L618.0,816.3 Z" fill="#111"/>
<text class="b" x="632.4" y="827.8" font-size="19" text-anchor="middle" textLength="11" lengthAdjust="spacingAndGlyphs">0</text>
<circle cx="628" cy="888.8" r="13.1" fill="none" stroke="#111" stroke-width="1.9"/>
<path d="M621.1,881.6 L624.3,881.6 L624.3,895.4 L621.1,895.4 L621.1,885.0 L618.5,886.2 L618.5,883.9 Z" fill="#111"/>
<path d="M630.7,881.6 L633.9,881.6 L633.9,895.4 L630.7,895.4 L630.7,885.0 L628.1,886.2 L628.1,883.9 Z" fill="#111"/>
</g>

<rect x="118" y="1004.8" width="929" height="1.6" fill="#2a2a2a"/>
<text class="b" x="116.8" y="1606.8" font-size="22.5" textLength="26.5" lengthAdjust="spacingAndGlyphs">20</text>
</svg>
</body></html>
